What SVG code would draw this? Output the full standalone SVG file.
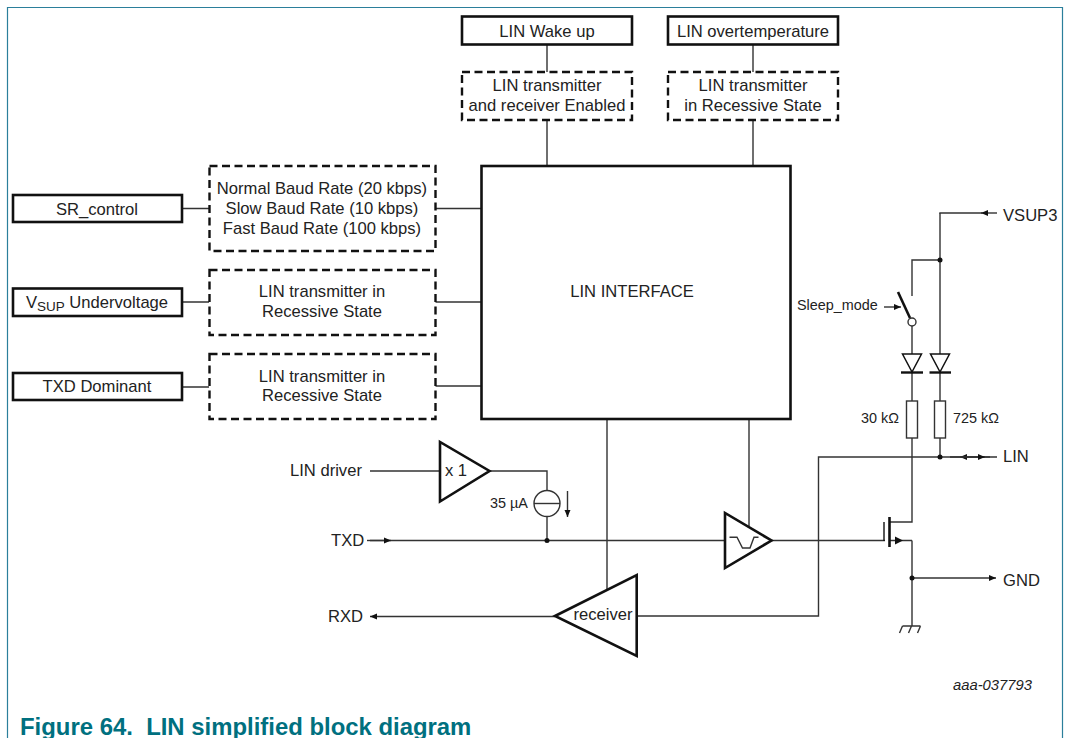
<svg xmlns="http://www.w3.org/2000/svg" width="1067" height="738" viewBox="0 0 1067 738">
<defs>
<marker id="arr" markerUnits="userSpaceOnUse" markerWidth="8" markerHeight="7" refX="7" refY="3.500" orient="auto"><path d="M0 0.500L7 3.500L0 6.500Z" fill="#111"/></marker>
</defs>
<style>
text{font-family:"Liberation Sans",Arial,sans-serif;font-size:16.600px;fill:#222}
.m{text-anchor:middle}
.s{font-size:14.400px}
.box{fill:#fff;stroke:#111;stroke-width:2.600}
.dash{fill:#fff;stroke:#111;stroke-width:2.400;stroke-dasharray:8 4.500}
.w{fill:none;stroke:#333;stroke-width:1.400}
.t{fill:#fff;stroke:#111;stroke-width:2.600;stroke-linejoin:miter}
.d{fill:#111}
</style>
<rect width="1067" height="738" fill="#fff"/>
<path d="M7.500 738V7.500H1062.500V738" fill="none" stroke="#2b7f9b" stroke-width="1.200"/>
<g id="connectors" class="w">
<path class="w" d="M547 44V72M547 120V166M753 44V72M753 120V166"/>
<path class="w" d="M182 208.500H209M435 208.500H481M182 302H209M435 302H481M182 387H209M435 386H481"/>
<path class="w" d="M607 419V590M749 419V526"/>
<path class="w" d="M370 471H440M490 471H547V490M547 517V540"/>
<path class="w" stroke="#111" d="M370 540.500H725M772 540.500H885"/>
<path class="w" marker-end="url(#arr)" d="M367 540.500H391"/>
<path class="w" marker-end="url(#arr)" d="M555 616.500H370"/>
<path class="w" d="M637 616H818.500V457H997"/>
<path class="w" marker-end="url(#arr)" d="M990 457H960"/>
<path class="w" marker-end="url(#arr)" d="M950 457H985"/>
<path class="w" d="M912 326V401M912 438V522H890M912 540.500H890M912 540.500V626"/>
<path class="w" d="M940 213V401M940 438V457"/>
<path class="w" marker-end="url(#arr)" d="M997 213H981"/>
<path class="w" d="M982 213H939.300M940 260H912V296"/>
<path class="w" marker-end="url(#arr)" d="M912 578H996"/>
<path class="w" marker-end="url(#arr)" d="M884 307H901"/>
<path class="w" marker-end="url(#arr)" d="M567.500 491V517"/>
</g>
<g id="sr-control"><rect class="box" x="13" y="195" width="169" height="27"/><text class="m" x="97" y="215">SR_control</text></g>
<g id="vsup-uv"><rect class="box" x="13" y="288.500" width="169" height="27.500"/><text class="m" x="97" y="308">V<tspan font-size="13.500" dy="3">SUP</tspan><tspan dy="-3"> Undervoltage</tspan></text></g>
<g id="txd-dom"><rect class="box" x="13" y="373" width="169" height="27"/><text class="m" x="97" y="392">TXD Dominant</text></g>
<g id="baud"><rect class="dash" x="209.500" y="166" width="226" height="85"/><text class="m" x="322" y="194">Normal Baud Rate (20 kbps)</text><text class="m" x="322" y="214">Slow Baud Rate (10 kbps)</text><text class="m" x="322" y="234">Fast Baud Rate (100 kbps)</text></g>
<g id="uv-rec"><rect class="dash" x="209.500" y="270" width="226" height="65"/><text class="m" x="322" y="297">LIN transmitter in</text><text class="m" x="322" y="317">Recessive State</text></g>
<g id="txd-rec"><rect class="dash" x="209.500" y="354" width="226" height="65"/><text class="m" x="322" y="382">LIN transmitter in</text><text class="m" x="322" y="401">Recessive State</text></g>
<g id="wake"><rect class="box" x="462" y="16.500" width="170" height="28"/><text class="m" x="547" y="37">LIN Wake up</text></g>
<g id="temp"><rect class="box" x="668" y="16.500" width="170" height="28"/><text class="m" x="753" y="37">LIN overtemperature</text></g>
<g id="enabled"><rect class="dash" x="462" y="72" width="170" height="48"/><text class="m" x="547" y="91">LIN transmitter</text><text class="m" x="547" y="111">and receiver Enabled</text></g>
<g id="rec-top"><rect class="dash" x="668" y="72" width="170" height="48"/><text class="m" x="753" y="91">LIN transmitter</text><text class="m" x="753" y="111">in Recessive State</text></g>
<g id="lin-interface"><rect class="box" x="481.500" y="166" width="309" height="253"/><text class="m" x="632" y="297">LIN INTERFACE</text></g>
<g id="x1"><path class="t" d="M440 442V501.500L489.500 471Z"/><text class="m" x="456" y="476">x 1</text></g>
<g id="source"><circle cx="547" cy="503.500" r="13" fill="#fff" stroke="#333" stroke-width="1.400"/><path class="w" d="M534 503.500H560"/><text x="490" y="508" class="s">35 µA</text></g>
<circle class="d" cx="547" cy="540.500" r="2.500"/>
<g id="comparator"><path class="t" d="M725 513V568L771.500 540.500Z"/><path class="w" d="M729.500 537.300H737L742.500 548H750L754 537.300H758.500"/></g>
<g id="receiver"><path class="t" d="M555 616L636.700 575V656Z"/><text class="m" x="603" y="620">receiver</text></g>
<g id="switch"><path d="M898 292L910 318" stroke="#111" stroke-width="2.600" fill="none"/><circle cx="912" cy="322" r="4" fill="#fff" stroke="#333" stroke-width="1.400"/><text class="s" x="797" y="310">Sleep_mode</text></g>
<g id="d1"><path d="M902.500 354H921.500L912 372Z" fill="#fff" stroke="#111" stroke-width="1.500"/><path d="M901 372.500H923" stroke="#111" stroke-width="2.400"/></g>
<g id="d2"><path d="M930.500 354H949.500L940 372Z" fill="#fff" stroke="#111" stroke-width="1.500"/><path d="M929.500 372.500H951" stroke="#111" stroke-width="2.400"/></g>
<g id="r1"><rect x="906.500" y="401" width="11" height="37" fill="#fff" stroke="#333" stroke-width="1.400"/><text class="s" x="861" y="423">30 kΩ</text></g>
<g id="r2"><rect x="934.500" y="401" width="11" height="37" fill="#fff" stroke="#333" stroke-width="1.400"/><text class="s" x="953" y="423">725 kΩ</text></g>
<g id="mosfet"><path d="M884 522V541" stroke="#111" stroke-width="1.400" fill="none"/><path d="M889.500 517V547" stroke="#111" stroke-width="2.600"/><path d="M895 536.500L903 540.500L895 544.500Z" fill="#111"/></g>
<circle class="d" cx="940" cy="260" r="2.500"/><circle class="d" cx="940" cy="457" r="2.500"/><circle class="d" cx="912" cy="578" r="2.500"/>
<g id="ground"><path class="w" d="M902.500 626H920.500M902.500 626L899.500 633M911.500 626L908.500 633M920.500 626L917.500 633"/></g>
<text x="1003" y="221">VSUP3</text><text x="1003" y="462">LIN</text><text x="1003" y="586">GND</text>
<text x="331" y="546">TXD</text><text x="328" y="622">RXD</text><text x="290" y="476">LIN driver</text>
<text x="953" y="690" style="font-size:14.800px;font-style:italic">aaa-037793</text>
<text x="20" y="735" xml:space="preserve" style="font-size:23.900px;font-weight:bold;fill:#00707f;white-space:pre">Figure 64.  LIN simplified block diagram</text>
</svg>
